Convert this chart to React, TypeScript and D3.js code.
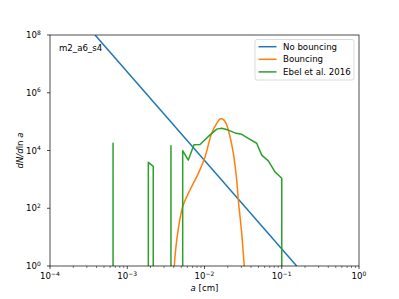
import React from "react";
import * as d3 from "d3";

// series (a in cm, dN/dln a)
const blueA = [3.83e-4, 0.156];
const blueN = [1e8, 1];

const orangeA = [3.94e-3, 4.37e-3, 5.22e-3, 6.49e-3, 8.32e-3, 1.01e-2, 1.24e-2, 1.44e-2, 1.59e-2, 1.72e-2, 1.9e-2, 2.14e-2, 2.36e-2, 2.61e-2, 2.74e-2, 3.03e-2, 3.27e-2, 3.39e-2];
const orangeN = [0.3, 7.9, 112, 427, 1620, 5750, 39800, 87000, 123000, 123000, 87000, 30000, 8100, 955, 195, 13.8, 1, 0.3];

// 0.01 stands for empty bins (drawn below the axis and clipped)
const greenA = [6.55e-4, 6.55e-4, 6.55e-4, 1.875e-3, 1.875e-3, 2.17e-3, 2.17e-3, 3.68e-3, 3.68e-3, 3.68e-3, 5.22e-3, 5.22e-3, 6.17e-3, 7.31e-3, 8.75e-3, 1.18e-2, 1.44e-2, 1.67e-2, 2.03e-2, 2.48e-2, 3.03e-2, 3.69e-2, 4.74e-2, 5.51e-2, 6.7e-2, 8.18e-2, 0.1, 0.1];
const greenN = [0.01, 17800, 0.01, 0.01, 3890, 2820, 0.01, 0.01, 14500, 0.01, 0.01, 9800, 4680, 15800, 16200, 34700, 55000, 59000, 51000, 40700, 36300, 26300, 17800, 6900, 4370, 1820, 1100, 0.01];

const xTicks = [-4, -3, -2, -1, 0];
const yTicks = [0, 2, 4, 6, 8];
const legendLabels = ["No bouncing", "Bouncing", "Ebel et al. 2016"];
const colors = ["#1f77b4", "#ff7f0e", "#2ca02c"];

const W = 399, H = 299;
const m = { left: 50, right: 40, top: 35, bottom: 33 };
const font = "DejaVu Sans, sans-serif";

export default function App() {
  const x = d3.scaleLog().domain([1e-4, 1]).range([m.left, W - m.right]);
  const y = d3.scaleLog().domain([1, 1e8]).range([H - m.bottom, m.top]);
  const line = d3.line<[number, number]>().x(d => x(d[0])).y(d => y(d[1]));
  const smooth = d3.line<[number, number]>().x(d => x(d[0])).y(d => y(d[1])).curve(d3.curveCatmullRom.alpha(0.5));

  const zip = (a: number[], n: number[]) => a.map((v, i) => [v, n[i]] as [number, number]);

  const minor: number[] = [];
  for (let e = -4; e < 0; e++) for (let k = 2; k < 10; k++) minor.push(k * Math.pow(10, e));

  const x0 = m.left, x1 = W - m.right, y0 = H - m.bottom, y1 = m.top;

  return (
    <svg width={W} height={H} style={{ position: "absolute", left: 0, top: 0, background: "#fff" }} fontFamily={font}>
      <defs>
        <clipPath id="plot">
          <rect x={x0} y={y1} width={x1 - x0} height={y0 - y1} />
        </clipPath>
      </defs>
      <g clipPath="url(#plot)" fill="none" strokeWidth={1.5} strokeLinejoin="round">
        <path d={line(zip(blueA, blueN)) || ""} stroke={colors[0]} />
        <path d={smooth(zip(orangeA, orangeN)) || ""} stroke={colors[1]} />
        <path d={line(zip(greenA, greenN)) || ""} stroke={colors[2]} />
      </g>
      <rect x={x0} y={y1} width={x1 - x0} height={y0 - y1} fill="none" stroke="#000" strokeWidth={0.7} />
      {minor.map((v, i) => (
        <line key={"mx" + i} x1={x(v)} x2={x(v)} y1={y0} y2={y0 + 2} stroke="#000" strokeWidth={0.5} />
      ))}
      {xTicks.map(e => (
        <g key={"x" + e}>
          <line x1={x(Math.pow(10, e))} x2={x(Math.pow(10, e))} y1={y0} y2={y0 + 3} stroke="#000" strokeWidth={0.7} />
          <text x={x(Math.pow(10, e))} y={y0 + 13} textAnchor="middle" fontSize={8.6}>
            10<tspan fontSize={6} dy={-3.5}>{e < 0 ? "\u2212" + -e : e}</tspan>
          </text>
        </g>
      ))}
      {yTicks.map(e => (
        <g key={"y" + e}>
          <line x1={x0 - 3} x2={x0} y1={y(Math.pow(10, e))} y2={y(Math.pow(10, e))} stroke="#000" strokeWidth={0.7} />
          <text x={x0 - 13} y={y(Math.pow(10, e)) + 3} textAnchor="end" fontSize={8.6}>10</text>
          <text x={x0 - 13} y={y(Math.pow(10, e)) - 0.5} textAnchor="start" fontSize={6}>{e}</text>
        </g>
      ))}
      <text x={(x0 + x1) / 2} y={H - 8} textAnchor="middle" fontSize={8.6}>
        <tspan fontStyle="italic">a</tspan> [cm]
      </text>
      <text transform={`translate(23,${(y0 + y1) / 2}) rotate(-90)`} textAnchor="middle" fontSize={8.6} fontStyle="italic">
        dN/d<tspan fontStyle="normal">ln</tspan> a
      </text>
      <text x={59} y={51} fontSize={8.6}>m2_a6_s4</text>
      <g>
        <rect x={255} y={39.5} width={99} height={40.5} rx={2} fill="#fff" fillOpacity={0.8} stroke="#ccc" strokeWidth={0.7} />
        {legendLabels.map((l, i) => (
          <g key={l}>
            <line x1={258.5} x2={276.5} y1={46.7 + i * 12.6} y2={46.7 + i * 12.6} stroke={colors[i]} strokeWidth={1.5} />
            <text x={283} y={46.7 + i * 12.6 + 3} fontSize={8.6}>{l}</text>
          </g>
        ))}
      </g>
    </svg>
  );
}
